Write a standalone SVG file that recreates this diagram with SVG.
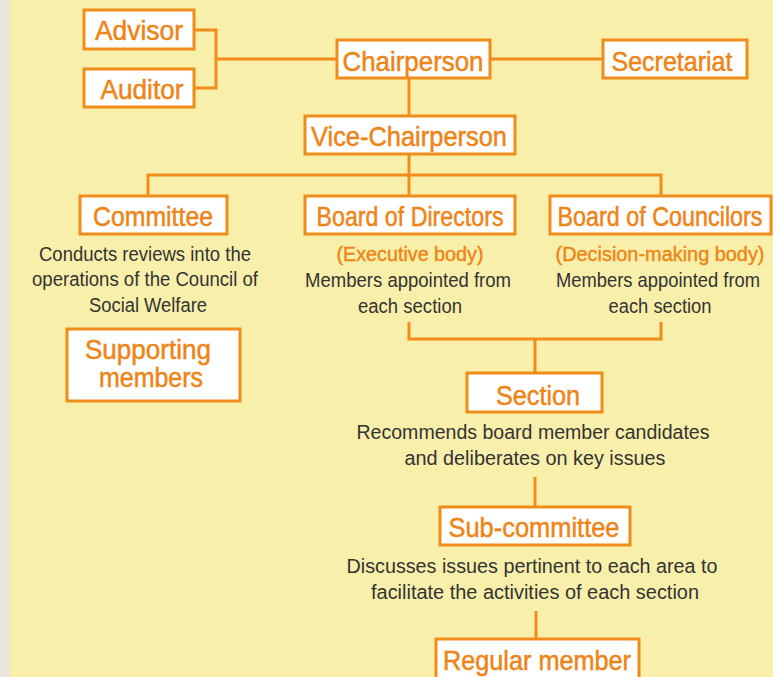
<svg xmlns="http://www.w3.org/2000/svg" width="773" height="677" viewBox="0 0 773 677">
<style>
.box{fill:#fff;stroke:#F08C1A;stroke-width:3}
.ln{fill:none;stroke:#F08C1A;stroke-width:3}
.t{font-family:"Liberation Sans",Arial,sans-serif;font-size:27.5px;fill:#EE8416;stroke:#EE8416;stroke-width:0.5;text-anchor:middle}
.o{font-family:"Liberation Sans",Arial,sans-serif;font-size:20px;fill:#EE8416;stroke:#EE8416;stroke-width:0.4;text-anchor:middle}
.d{font-family:"Liberation Sans",Arial,sans-serif;font-size:20px;fill:#333;text-anchor:middle}
</style>
<rect width="773" height="677" fill="#F8EFAA"/>
<rect width="10" height="677" fill="#ECE7DC"/>
<g id="connectors">
<path class="ln" d="M195 30H216V88H195M216 59H337"/>
<path class="ln" d="M490 59H603"/>
<path class="ln" d="M409 79V116"/>
<path class="ln" d="M409 155V196M148 196V175H661V196"/>
<path class="ln" d="M409 322V339H661V322M535 339V373"/>
<path class="ln" d="M535 477V507"/>
<path class="ln" d="M536 611V639"/>
</g>
<g id="advisor"><rect class="box" x="84" y="10" width="110" height="39"/><text class="t" x="139" y="40" textLength="88" lengthAdjust="spacingAndGlyphs">Advisor</text></g>
<g id="auditor"><rect class="box" x="84" y="69" width="110" height="38"/><text class="t" x="142" y="99" textLength="83" lengthAdjust="spacingAndGlyphs">Auditor</text></g>
<g id="chairperson"><rect class="box" x="337" y="40" width="153" height="38"/><text class="t" x="413" y="71" textLength="141" lengthAdjust="spacingAndGlyphs">Chairperson</text></g>
<g id="secretariat"><rect class="box" x="603" y="40" width="144" height="38"/><text class="t" x="672" y="71" textLength="121" lengthAdjust="spacingAndGlyphs">Secretariat</text></g>
<g id="vice-chairperson"><rect class="box" x="305" y="116" width="210" height="38"/><text class="t" x="409" y="146" textLength="196" lengthAdjust="spacingAndGlyphs">Vice-Chairperson</text></g>
<g id="committee"><rect class="box" x="80" y="196" width="147" height="38"/><text class="t" x="153" y="226" textLength="120" lengthAdjust="spacingAndGlyphs">Committee</text>
<text class="d" x="145" y="261" textLength="212" lengthAdjust="spacingAndGlyphs">Conducts reviews into the</text>
<text class="d" x="145" y="286" textLength="226" lengthAdjust="spacingAndGlyphs">operations of the Council of</text>
<text class="d" x="148" y="312" textLength="118" lengthAdjust="spacingAndGlyphs">Social Welfare</text></g>
<g id="supporting-members"><rect class="box" x="67" y="329" width="173" height="72"/><text class="t" x="148" y="359" textLength="126" lengthAdjust="spacingAndGlyphs">Supporting</text><text class="t" x="151" y="387" textLength="104" lengthAdjust="spacingAndGlyphs">members</text></g>
<g id="board-of-directors"><rect class="box" x="305" y="196" width="210" height="38"/><text class="t" x="410" y="226" textLength="187" lengthAdjust="spacingAndGlyphs">Board of Directors</text>
<text class="o" x="410" y="261" textLength="147" lengthAdjust="spacingAndGlyphs">(Executive body)</text>
<text class="d" x="408" y="287" textLength="206" lengthAdjust="spacingAndGlyphs">Members appointed from</text>
<text class="d" x="410" y="313" textLength="104" lengthAdjust="spacingAndGlyphs">each section</text></g>
<g id="board-of-councilors"><rect class="box" x="550" y="196" width="221" height="38"/><text class="t" transform="translate(660,226) scale(1,1.18)" x="0" y="0" style="font-size:23.3px;stroke-width:0.45" textLength="205" lengthAdjust="spacingAndGlyphs">Board of Councilors</text>
<text class="o" x="660" y="261" textLength="209" lengthAdjust="spacingAndGlyphs">(Decision-making body)</text>
<text class="d" transform="translate(658,287) scale(1,1.09)" x="0" y="0" style="font-size:18.35px" textLength="204" lengthAdjust="spacingAndGlyphs">Members appointed from</text>
<text class="d" x="660" y="313" textLength="103" lengthAdjust="spacingAndGlyphs">each section</text></g>
<g id="section"><rect class="box" x="467" y="373" width="135" height="39"/><text class="t" x="538" y="405" textLength="84" lengthAdjust="spacingAndGlyphs">Section</text>
<text class="d" x="533" y="439" textLength="353" lengthAdjust="spacingAndGlyphs">Recommends board member candidates</text>
<text class="d" x="535" y="465" textLength="261" lengthAdjust="spacingAndGlyphs">and deliberates on key issues</text></g>
<g id="sub-committee"><rect class="box" x="440" y="507" width="190" height="38"/><text class="t" x="534" y="537" textLength="171" lengthAdjust="spacingAndGlyphs">Sub-committee</text>
<text class="d" x="532" y="573" textLength="371" lengthAdjust="spacingAndGlyphs">Discusses issues pertinent to each area to</text>
<text class="d" x="535" y="599" textLength="328" lengthAdjust="spacingAndGlyphs">facilitate the activities of each section</text></g>
<g id="regular-member"><rect class="box" x="436" y="639" width="203" height="45"/><text class="t" x="537" y="670" textLength="188" lengthAdjust="spacingAndGlyphs">Regular member</text></g>
</svg>
